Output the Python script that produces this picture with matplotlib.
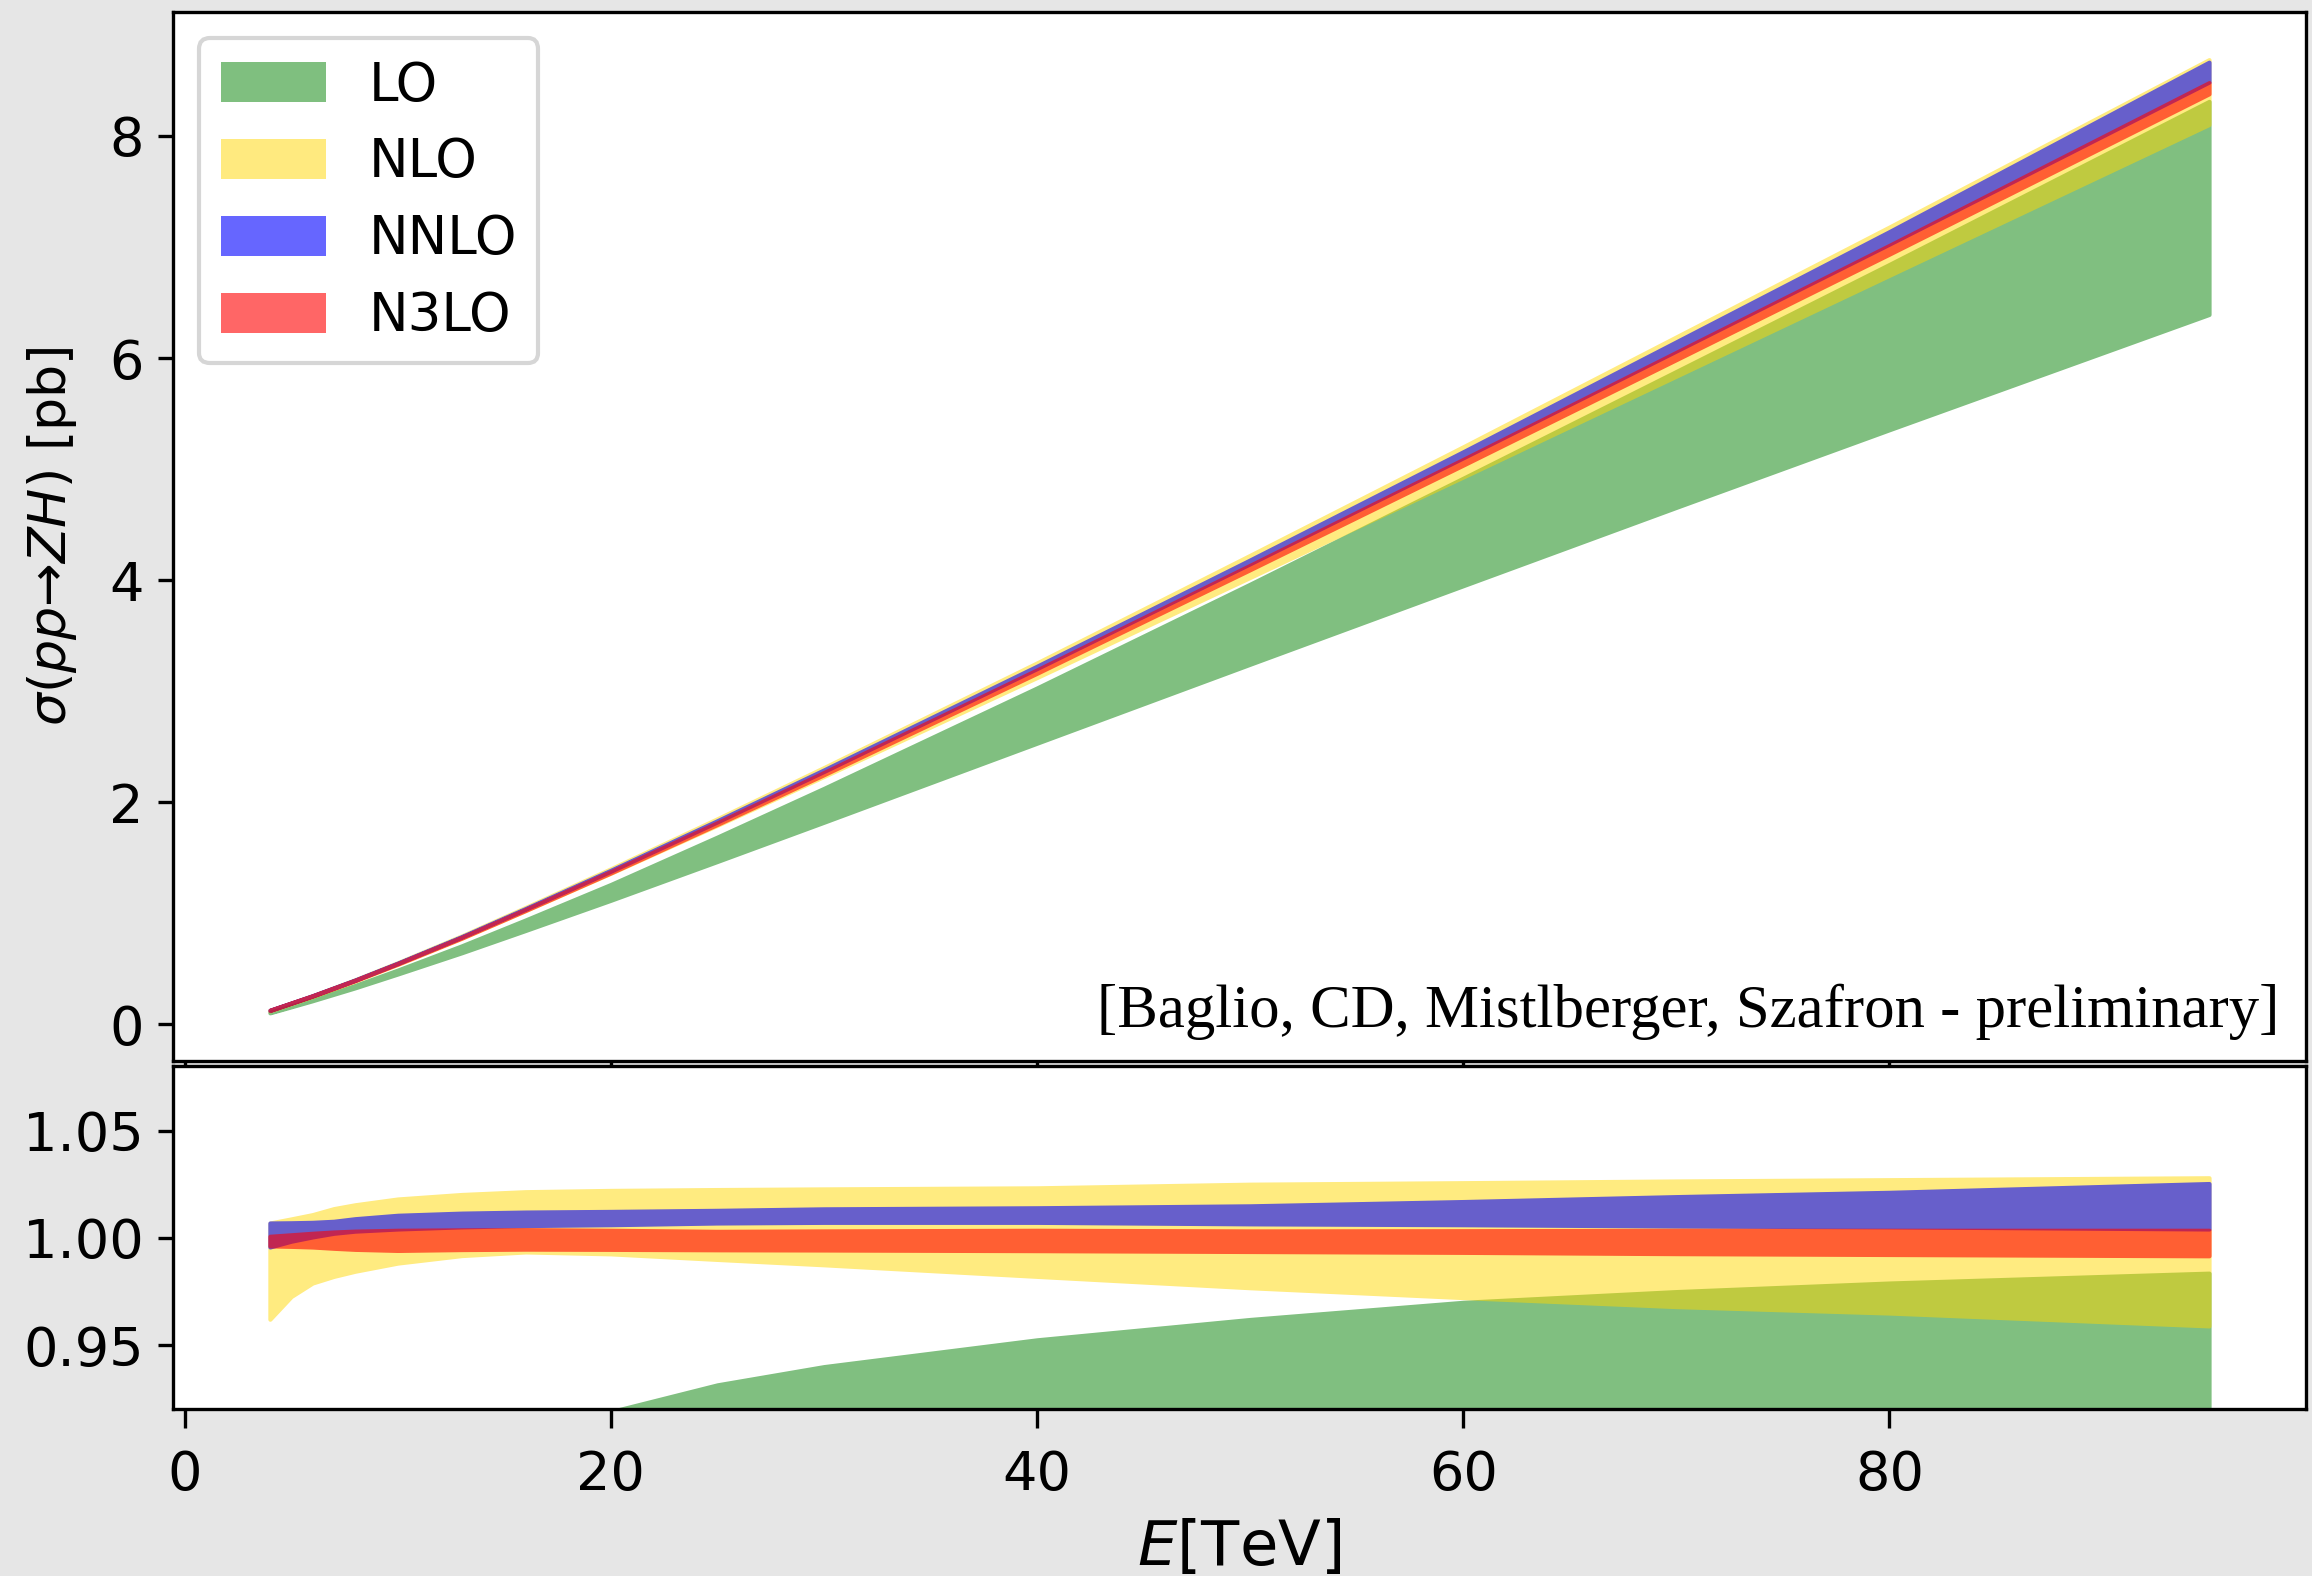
import matplotlib
matplotlib.use('Agg')
import matplotlib.pyplot as plt
from matplotlib.patches import Patch
import numpy as np

# collider energy grid [TeV]
energy = [4, 5, 6, 7, 8, 10, 13, 16, 20, 25, 30, 40, 50, 60, 70, 80, 95]

# reference cross section (N3LO central) [pb]
sigma_ref = [0.125, 0.19, 0.255, 0.325, 0.395, 0.545, 0.78, 1.03, 1.37, 1.81, 2.26,
             3.18, 4.12, 5.07, 6.03, 6.99, 8.45]

# scale-variation bands, as ratio to the reference
lo_low = [0.82, 0.825, 0.83, 0.83, 0.83, 0.83, 0.825, 0.82, 0.815, 0.81, 0.805,
          0.796, 0.787, 0.779, 0.772, 0.766, 0.7565]
lo_high = [0.86, 0.865, 0.87, 0.877, 0.884, 0.895, 0.905, 0.912, 0.919, 0.9315, 0.940,
           0.9525, 0.962, 0.970, 0.975, 0.979, 0.9836]
nlo_low = [0.9621, 0.9727, 0.9790, 0.9821, 0.9845, 0.9883, 0.9918, 0.9935, 0.9926, 0.9900,
           0.9875, 0.9821, 0.9768, 0.9722, 0.9680, 0.9650, 0.9590]
nlo_high = [1.0070, 1.0089, 1.0109, 1.0137, 1.0155, 1.0182, 1.0203, 1.0216, 1.0222, 1.0226,
            1.0229, 1.0234, 1.0251, 1.0258, 1.0266, 1.0272, 1.0281]
nnlo_low = [0.9958, 0.9985, 1.0005, 1.0022, 1.0032, 1.0042, 1.0052, 1.0058, 1.0062, 1.0070,
            1.0073, 1.0073, 1.0066, 1.0062, 1.0056, 1.0052, 1.0042]
nnlo_high = [1.0070, 1.0071, 1.0073, 1.0078, 1.0090, 1.0106, 1.0116, 1.0121, 1.0124, 1.0129,
             1.0136, 1.0141, 1.0150, 1.0170, 1.0193, 1.0213, 1.0254]
n3lo_low = [0.9963, 0.9961, 0.9958, 0.9952, 0.9947, 0.9942, 0.9946, 0.9948, 0.9947, 0.9945,
            0.9944, 0.9941, 0.9937, 0.9933, 0.9927, 0.9923, 0.9917]
n3lo_high = [1.0008, 1.0015, 1.0022, 1.0028, 1.0032, 1.0036, 1.0038, 1.0039, 1.0036, 1.0031,
             1.0033, 1.0036, 1.0033, 1.0034, 1.0036, 1.0036, 1.0036]

orders = ['LO', 'NLO', 'NNLO', 'N3LO']
bands = [(lo_low, lo_high), (nlo_low, nlo_high), (nnlo_low, nnlo_high), (n3lo_low, n3lo_high)]
colors = ['green', 'gold', 'blue', 'red']
alphas = [0.5, 0.5, 0.6, 0.6]


def fade(a):
    # transparency for the whole band at once (fill + edge together);
    # the filtered image ends up blended twice, hence the square root
    def f(img, dpi):
        img = img.copy()
        img[..., 3] *= np.sqrt(a)
        return img, 0, 0
    return f


x = np.array(energy)
ref = np.array(sigma_ref)

fig = plt.figure(figsize=(2312 / 300, 1576 / 300), dpi=300, facecolor='0.9')
ax1 = fig.add_axes([0.0748, 0.32709, 0.9226, 0.6653])
ax2 = fig.add_axes([0.0748, 0.10565, 0.9226, 0.21764], sharex=ax1)

handles = []
for name, (lo, hi), c, a in zip(orders, bands, colors, alphas):
    lo = np.array(lo)
    hi = np.array(hi)
    p1 = ax1.fill_between(x, lo * ref, hi * ref, color=c, lw=1.0)
    p1.set_agg_filter(fade(a))
    p2 = ax2.fill_between(x, lo, hi, color=c, lw=1.0)
    p2.set_agg_filter(fade(a))
    handles.append(Patch(facecolor=c, alpha=a, lw=0, label=name))

ax1.set_ylabel(r'$\sigma(pp$' + '\u2192' + r'$ZH)$ [pb]', fontsize=12.5, labelpad=7.3)
ax1.tick_params(labelsize=13)
ax1.tick_params(axis='x', length=4.5)
plt.setp(ax1.get_xticklabels(), visible=False)
ax1.legend(handles=handles, loc='upper left', fontsize=12.7, handleheight=0.8,
           labelspacing=0.47)
ax1.text(0.9875, 0.0317, '[Baglio, CD, Mistlberger, Szafron - preliminary]',
         transform=ax1.transAxes, ha='right', va='baseline',
         family='Liberation Serif', fontsize=14.6)

ax2.set_ylim(0.92, 1.08)
ax2.set_yticks([0.95, 1.00, 1.05])
ax2.tick_params(labelsize=13)
ax2.tick_params(axis='x', length=4.5, pad=5)
ax2.set_xlabel(r'$E$[TeV]', fontsize=15)

fig.savefig('out.png', dpi=300, facecolor=fig.get_facecolor())
